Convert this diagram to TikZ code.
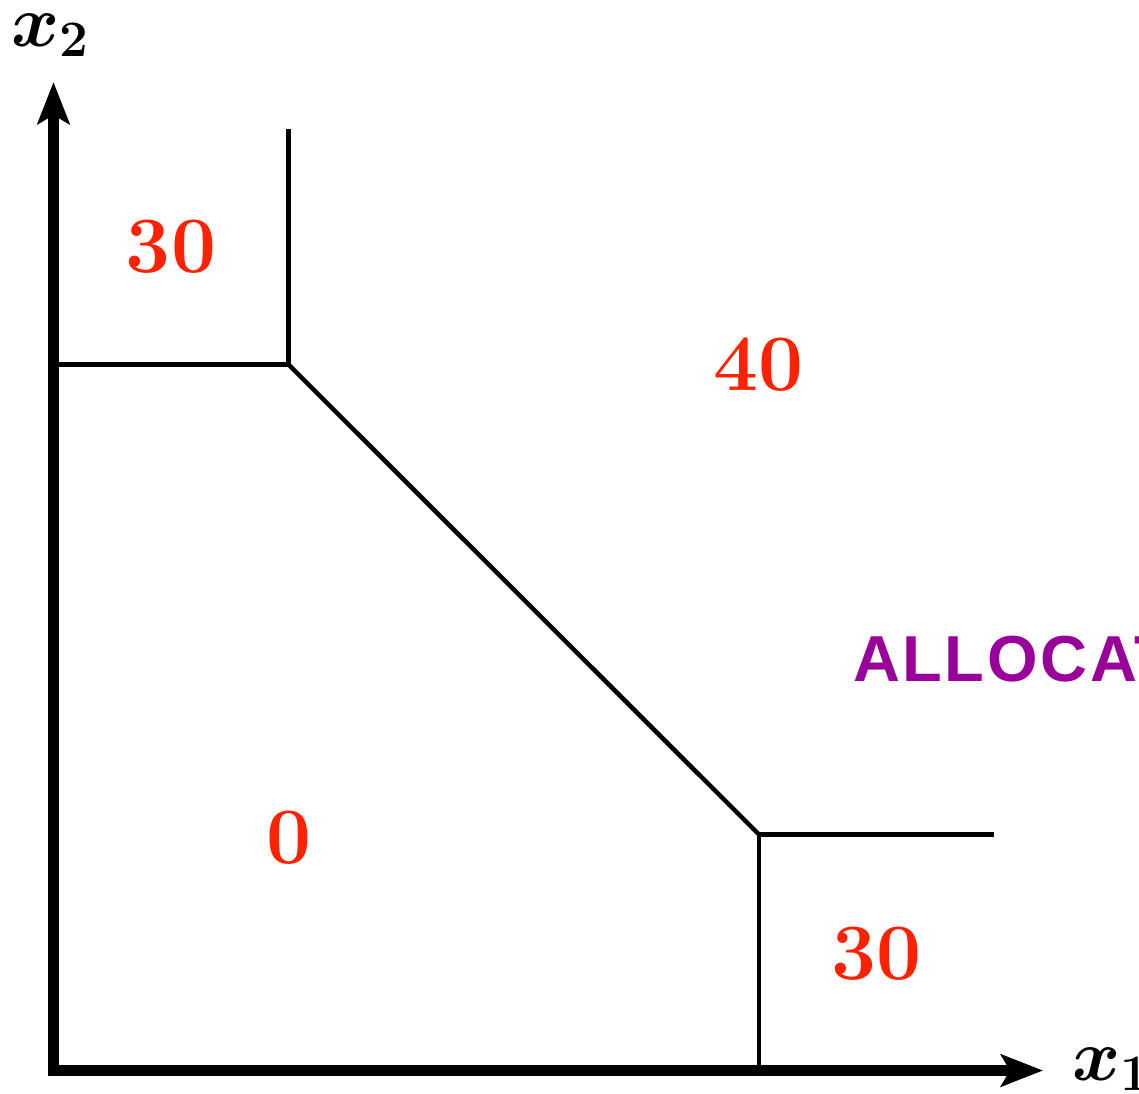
\RequirePackage{fix-cm}
\documentclass[tikz,border=0pt]{standalone}
\usepackage{fontspec}
\newfontfamily\allocfont[LetterSpace=4]{Liberation Sans}
\usetikzlibrary{arrows.meta}
\definecolor{numred}{RGB}{255,34,0}
\definecolor{allocpurple}{RGB}{153,0,153}
\begin{document}
\begin{tikzpicture}[x=1pt,y=-1pt,
  axis/.style={line width=11pt,-{Stealth[length=42pt,width=32pt,inset=9pt]}},
  boundary/.style={line width=4.5pt},
  regionnum/.style={inner sep=0pt,text=numred,font=\fontsize{80}{90}\selectfont\bfseries},
  axislabel/.style={inner sep=0pt,anchor=base west,font=\fontsize{73}{80}\selectfont\boldmath},
  tag/.style={inner sep=0pt,anchor=base west,text=allocpurple,font=\allocfont\bfseries\fontsize{65}{70}\selectfont}]
\useasboundingbox (0,0) rectangle (1139,1093);
% coordinates
\coordinate (ybot) at (53.5,1076);
\coordinate (ytip) at (53.5,82);
\coordinate (xleft) at (48,1070.5);
\coordinate (xtip) at (1043,1070.5);
\coordinate (A) at (288.5,364.5);
\coordinate (B) at (759,834.5);
\coordinate (Aleft) at (53.5,364.5);
\coordinate (Atop) at (288.5,129);
\coordinate (Bright) at (994,834.5);
\coordinate (Bbot) at (759,1068);
% boundaries
\draw[boundary] (Aleft) -- (A) -- (Atop);
\draw[boundary] (A) -- (B);
\draw[boundary] (Bright) -- (B) -- (Bbot);
% axes
\draw[axis] (ybot) -- (ytip);
\draw[axis] (xleft) -- (xtip);
% labels
\node[axislabel] (lx2) at (11,46) {$x_2$};
\node[axislabel] (lx1) at (1072,1080) {$x_1$};
\node[regionnum] (n30a) at (171,247) {30};
\node[regionnum] (n40) at (758.5,365) {40};
\node[regionnum] (n0) at (289,838) {0};
\node[regionnum] (n30b) at (876.5,954) {30};
\node[tag] (alloc) at (853,681) {ALLOCAT};
\end{tikzpicture}
\end{document}
